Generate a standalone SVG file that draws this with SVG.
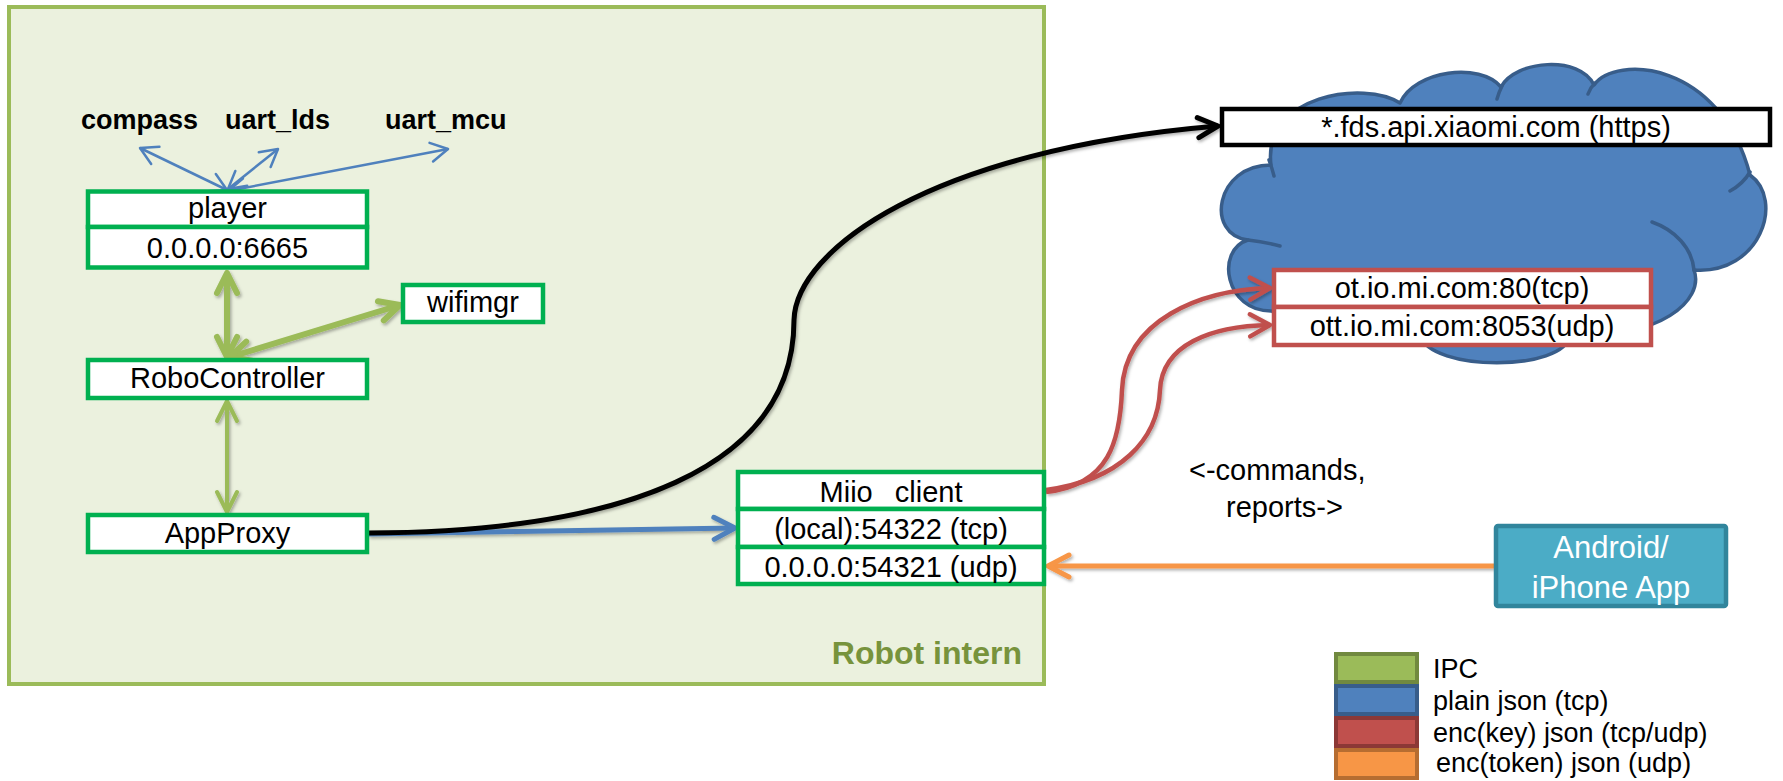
<svg xmlns="http://www.w3.org/2000/svg" width="1783" height="781" viewBox="0 0 1783 781">
  <style>
    .box { fill: #FFFFFF; stroke: #00B050; stroke-width: 4.5; }
    .t { font-family: "Liberation Sans", Arial, sans-serif; font-size: 29px; fill: #000000; text-anchor: middle; }
    .lbl { font-family: "Liberation Sans", Arial, sans-serif; font-size: 27px; font-weight: bold; fill: #000000; }
    .leg { font-family: "Liberation Sans", Arial, sans-serif; font-size: 27px; fill: #000000; }
    .note { font-family: "Liberation Sans", Arial, sans-serif; font-size: 29px; fill: #000000; }
    .red { fill: #FFFFFF; stroke: #C0504D; stroke-width: 4.5; }
    .conn { fill: none; }
  </style>
  <defs>
    <filter id="shadow" x="-10%" y="-10%" width="120%" height="130%">
      <feDropShadow dx="1.5" dy="2" stdDeviation="1.5" flood-color="#000000" flood-opacity="0.3"/>
    </filter>
    <marker id="hBlueThin" markerUnits="userSpaceOnUse" orient="auto-start-reverse" overflow="visible" markerWidth="1" markerHeight="1">
      <path d="M-17,-9.5 L0,0 L-17,9.5" fill="none" stroke="#4F81BD" stroke-width="2.5" stroke-linejoin="round" stroke-linecap="round"/>
    </marker>
    <marker id="hGreen" markerUnits="userSpaceOnUse" orient="auto-start-reverse" overflow="visible" markerWidth="1" markerHeight="1">
      <path d="M-20,-10 L0,0 L-20,10" fill="none" stroke="#9BBB59" stroke-width="6" stroke-linejoin="round" stroke-linecap="round"/>
    </marker>
    <marker id="hGreenMid" markerUnits="userSpaceOnUse" orient="auto-start-reverse" overflow="visible" markerWidth="1" markerHeight="1">
      <path d="M-20,-10 L0,0 L-20,10" fill="none" stroke="#9BBB59" stroke-width="4" stroke-linejoin="round" stroke-linecap="round"/>
    </marker>
    <marker id="hBlack" markerUnits="userSpaceOnUse" orient="auto" overflow="visible" markerWidth="1" markerHeight="1">
      <path d="M-20,-10 L0,0 L-20,10" fill="none" stroke="#000000" stroke-width="5" stroke-linejoin="round" stroke-linecap="round"/>
    </marker>
    <marker id="hBlue" markerUnits="userSpaceOnUse" orient="auto" overflow="visible" markerWidth="1" markerHeight="1">
      <path d="M-21,-11 L0,0 L-21,11" fill="none" stroke="#4F81BD" stroke-width="5" stroke-linejoin="round" stroke-linecap="round"/>
    </marker>
    <marker id="hRed" markerUnits="userSpaceOnUse" orient="auto" overflow="visible" markerWidth="1" markerHeight="1">
      <path d="M-20,-11 L0,0 L-20,11" fill="none" stroke="#C0504D" stroke-width="4.5" stroke-linejoin="round" stroke-linecap="round"/>
    </marker>
    <marker id="hOrange" markerUnits="userSpaceOnUse" orient="auto" overflow="visible" markerWidth="1" markerHeight="1">
      <path d="M-21,-11 L0,0 L-21,11" fill="none" stroke="#F79646" stroke-width="5" stroke-linejoin="round" stroke-linecap="round"/>
    </marker>
  </defs>

  <rect width="1783" height="781" fill="#FFFFFF"/>

  <!-- robot boundary -->
  <g id="robot-intern">
    <rect x="9" y="7" width="1035" height="677" fill="#EBF1DE" stroke="#9BBB59" stroke-width="4"/>
    <text x="1022" y="664" font-family="'Liberation Sans', Arial, sans-serif" font-size="32" font-weight="bold" fill="#77933C" text-anchor="end">Robot intern</text>
  </g>

  <!-- cloud -->
  <g id="cloud">
    <path d="M 1248 240 C 1205 235, 1215 165, 1271 165 C 1262 95, 1365 80, 1400 103 C 1415 70, 1480 62, 1501 87 C 1515 60, 1580 55, 1594 85 C 1615 55, 1720 60, 1750 175 C 1785 200, 1760 275, 1694 270 C 1705 300, 1660 340, 1570 335 C 1565 372, 1430 372, 1420 335 C 1380 345, 1300 345, 1272 311 C 1225 312, 1215 250, 1248 240 Z" fill="#4F81BD" stroke="#385D8A" stroke-width="3.5" stroke-linejoin="round"/>
    <path d="M 1269 160 Q 1272 168 1274 176 M 1248 240 Q 1265 242 1280 246 M 1502 86 Q 1499 92 1497 99 M 1595 83 Q 1590 88 1588 94 M 1730 191 Q 1743 184 1750 172 M 1652 222 C 1675 230 1692 248 1694 270" fill="none" stroke="#385D8A" stroke-width="3.5" stroke-linecap="round"/>
  </g>

  <!-- labels of the sensor links -->
  <g id="sensors">
    <text class="lbl" x="81" y="129">compass</text>
    <text class="lbl" x="225" y="129">uart_lds</text>
    <text class="lbl" x="385" y="129">uart_mcu</text>
  </g>

  <!-- connectors -->
  <g id="connectors" class="conn">
    <g stroke="#4F81BD" stroke-width="2.5" marker-start="url(#hBlueThin)" marker-end="url(#hBlueThin)">
      <line x1="227" y1="190" x2="140" y2="148"/>
      <line x1="228" y1="189" x2="278" y2="149"/>
      <line x1="228" y1="191" x2="448" y2="149"/>
    </g>
    <g filter="url(#shadow)">
      <line x1="227" y1="273" x2="227" y2="357" stroke="#9BBB59" stroke-width="6" marker-start="url(#hGreen)" marker-end="url(#hGreen)"/>
      <line x1="230" y1="357" x2="400" y2="305" stroke="#9BBB59" stroke-width="6" marker-start="url(#hGreen)" marker-end="url(#hGreen)"/>
      <line x1="227" y1="401" x2="227" y2="512" stroke="#9BBB59" stroke-width="4" marker-start="url(#hGreenMid)" marker-end="url(#hGreenMid)"/>
      <path d="M 369 534 L 735 528" stroke="#4F81BD" stroke-width="5" marker-end="url(#hBlue)"/>
      <path d="M 368 533 C 620 532, 794 470, 794 320 C 796 250, 930 150, 1218 126" stroke="#000000" stroke-width="5" marker-end="url(#hBlack)"/>
      <path d="M 1046 492 C 1110 485, 1120 440, 1122 390 C 1125 320, 1200 290, 1270 288" stroke="#C0504D" stroke-width="4.5" marker-end="url(#hRed)"/>
      <path d="M 1046 490 C 1120 480, 1158 440, 1160 390 C 1162 345, 1210 326, 1270 325" stroke="#C0504D" stroke-width="4.5" marker-end="url(#hRed)"/>
      <path d="M 1494 566 L 1048 566" stroke="#F79646" stroke-width="5" marker-end="url(#hOrange)"/>
    </g>
  </g>

  <!-- nodes inside the robot -->
  <g id="player">
    <rect class="box" x="88" y="191.5" width="279" height="35.5"/>
    <rect class="box" x="88" y="227" width="279" height="40.5"/>
    <text class="t" x="227.5" y="218">player</text>
    <text class="t" x="227.5" y="258">0.0.0.0:6665</text>
  </g>

  <g id="wifimgr">
    <rect class="box" x="403" y="285" width="140" height="37"/>
    <text class="t" x="473" y="312">wifimgr</text>
  </g>

  <g id="robocontroller">
    <rect class="box" x="88" y="360" width="279" height="38"/>
    <text class="t" x="227.5" y="388">RoboController</text>
  </g>

  <g id="appproxy">
    <rect class="box" x="88" y="515" width="279" height="37"/>
    <text class="t" x="227.5" y="543">AppProxy</text>
  </g>

  <g id="miio-client">
    <rect class="box" x="738" y="472" width="306" height="37"/>
    <rect class="box" x="738" y="509" width="306" height="38"/>
    <rect class="box" x="738" y="547" width="306" height="37"/>
    <text class="t" x="891" y="502" word-spacing="14">Miio client</text>
    <text class="t" x="891" y="539">(local):54322 (tcp)</text>
    <text class="t" x="891" y="577">0.0.0.0:54321 (udp)</text>
  </g>

  <!-- cloud endpoints -->
  <g id="fds">
    <rect x="1222" y="109" width="548" height="36" fill="#FFFFFF" stroke="#000000" stroke-width="4.5"/>
    <text class="t" x="1496" y="137">*.fds.api.xiaomi.com (https)</text>
  </g>

  <g id="ot-servers">
    <rect class="red" x="1274" y="270" width="377" height="37"/>
    <rect class="red" x="1274" y="307" width="377" height="38"/>
    <text class="t" x="1462" y="298">ot.io.mi.com:80(tcp)</text>
    <text class="t" x="1462" y="336">ott.io.mi.com:8053(udp)</text>
  </g>

  <g id="app">
    <rect x="1496" y="526" width="230" height="80" rx="2" fill="#4BACC6" stroke="#31859C" stroke-width="4.5"/>
    <text class="t" x="1611" y="558" style="fill:#FFFFFF; font-size:31px">Android/</text>
    <text class="t" x="1611" y="598" style="fill:#FFFFFF; font-size:31px">iPhone App</text>
  </g>

  <g id="traffic-note">
    <text class="note" x="1189" y="480">&lt;-commands,</text>
    <text class="note" x="1226" y="517">reports-&gt;</text>
  </g>

  <!-- legend -->
  <g id="legend">
    <rect x="1336" y="654" width="81" height="28" fill="#9BBB59" stroke="#71893F" stroke-width="4"/>
    <rect x="1336" y="686" width="81" height="28" fill="#4F81BD" stroke="#385D8A" stroke-width="4"/>
    <rect x="1336" y="718" width="81" height="28" fill="#C0504D" stroke="#8C3836" stroke-width="4"/>
    <rect x="1336" y="750" width="81" height="28" fill="#F79646" stroke="#B66D31" stroke-width="4"/>
    <text class="leg" x="1433" y="678">IPC</text>
    <text class="leg" x="1433" y="710">plain json (tcp)</text>
    <text class="leg" x="1433" y="742">enc(key) json (tcp/udp)</text>
    <text class="leg" x="1436" y="772">enc(token) json (udp)</text>
  </g>
</svg>
